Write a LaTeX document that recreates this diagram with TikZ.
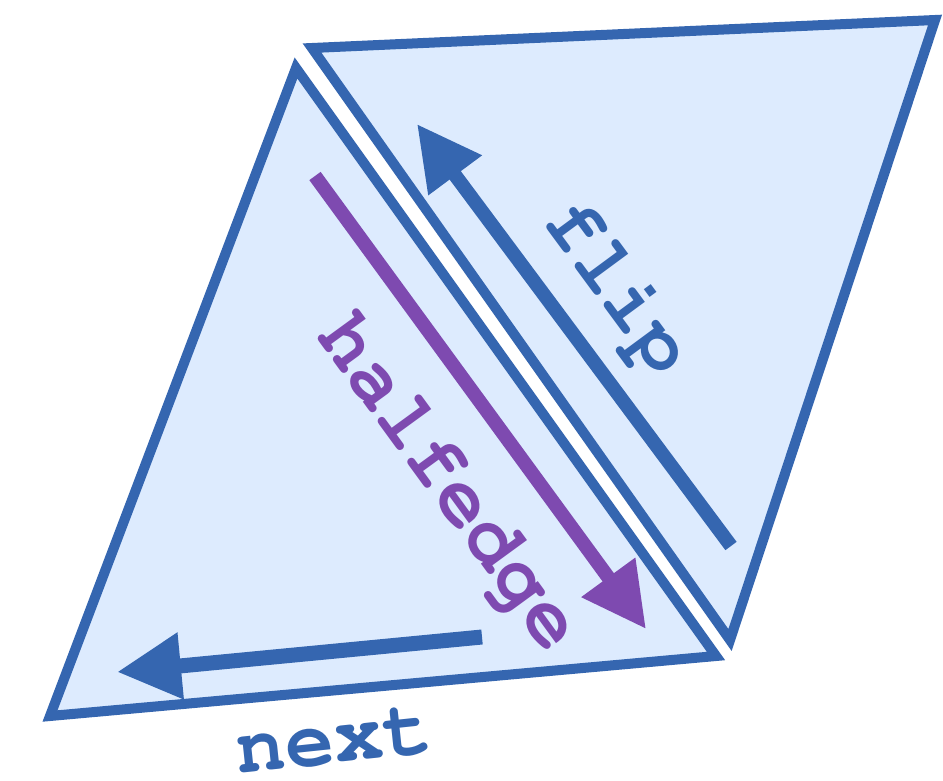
\documentclass[tikz,border=0pt]{standalone}
\usepackage[T1,TU]{fontenc}
\usepackage{fontspec}
\usetikzlibrary{arrows.meta}
\definecolor{edgeblue}{HTML}{3566B0}
\definecolor{facefill}{HTML}{DDEBFE}
\definecolor{hpurple}{HTML}{7E4AB0}
\newcommand{\courierlbl}{\fontencoding{T1}\fontfamily{pcr}\fontseries{b}\fontsize{82}{82}\selectfont}
\tikzset{
  tri/.style={draw=edgeblue, fill=facefill, line width=10pt, line join=miter, miter limit=20},
  bigarrow/.style={line width=14pt, line cap=butt, -{Triangle[length=64pt,width=63pt]}},
  lbl/.style={font=\courierlbl, inner sep=0pt},
}
\begin{document}
\begin{tikzpicture}[x=1pt,y=-1pt]
\useasboundingbox (0,0) rectangle (943,780);
% left face
\coordinate (L1) at (296,68);
\coordinate (L2) at (50,716);
\coordinate (L3) at (716,656);
% right face
\coordinate (R1) at (312,48);
\coordinate (R2) at (935,20);
\coordinate (R3) at (730,640);
\draw[tri] (L1) -- (L2) -- (L3) -- cycle;
\draw[tri] (R1) -- (R2) -- (R3) -- cycle;
% arrows
\coordinate (fs) at (731,546);
\coordinate (fe) at (417,124);
\coordinate (hs) at (315,176);
\coordinate (he) at (646,629);
\coordinate (ns) at (482,637);
\coordinate (ne) at (117,672);
\draw[bigarrow, edgeblue] (fs) -- (fe);
\draw[bigarrow, hpurple] (hs) -- (he);
\draw[bigarrow, edgeblue, line width=15pt] (ns) -- (ne);
% labels
\node[lbl, text=edgeblue, rotate=-53.6] (flip) at (617,288) {flip};
\node[lbl, text=hpurple, rotate=-53.9] (half) at (448,484) {halfedge};
\node[lbl, text=edgeblue, rotate=6] (next) at (334,741) {next};
\end{tikzpicture}
\end{document}
